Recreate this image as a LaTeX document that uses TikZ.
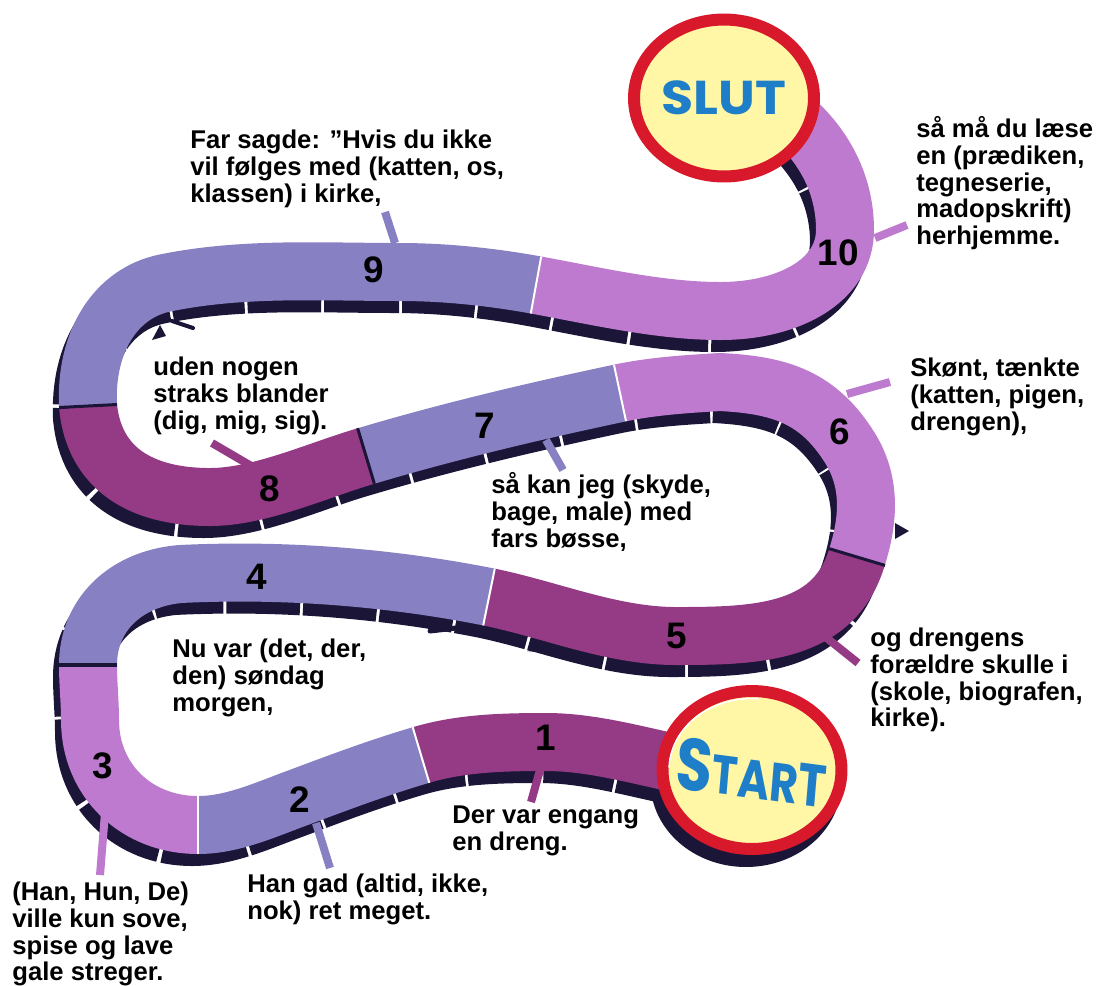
\documentclass[tikz,border=0pt]{standalone}
\usepackage{fontspec}
\setmainfont{Liberation Sans}
\newfontfamily\popfont{Poppins}
\definecolor{mag}{HTML}{953B86}
\definecolor{peri}{HTML}{8781C3}
\definecolor{lil}{HTML}{BD7ACF}
\definecolor{shd}{HTML}{1B1638}
\definecolor{ringred}{HTML}{D8182B}
\definecolor{yel}{HTML}{FFF6A6}
\definecolor{blu}{HTML}{1E7EC8}
\newcommand\segA{.. controls (649,759) and (598,742) .. (546,742) .. controls (504,742) and (461,743) .. (421,755)}
\newcommand\segB{.. controls (380,767) and (340,782) .. (300,797) .. controls (267,809) and (233,825) .. (198,825)}
\newcommand\segC{.. controls (137,825) and (90,781) .. (90,720) .. controls (90,702) and (88,683) .. (88,665)}
\newcommand\segD{.. controls (88,615) and (125,579) .. (180,574) .. controls (283,569) and (388,577) .. (489,597)}
\newcommand\segE{.. controls (552,610) and (612,636) .. (676,636) .. controls (756,636) and (834,634) .. (857,557)}
\newcommand\segF{.. controls (869,519) and (871,482) .. (850,448) .. controls (818,397) and (780,385) .. (720,382) .. controls (687,384) and (653,386) .. (620,393)}
\newcommand\segG{.. controls (535,411) and (450,431) .. (366,456)}
\newcommand\segH{.. controls (318,470) and (260,497) .. (210,497) .. controls (140,497) and (94,468) .. (88,406)}
\newcommand\segI{.. controls (85,341) and (116,293) .. (165,283) .. controls (243,267) and (322,272) .. (400,272) .. controls (445,272) and (492,277) .. (536,285)}
\newcommand\segJ{.. controls (596,296) and (660,311) .. (720,311) .. controls (790,311) and (845,280) .. (845,230) .. controls (845,180) and (820,140) .. (785,112)}
\newcommand\fs{\rule{0pt}{12pt}}
\begin{document}
\begin{tikzpicture}[x=0.02cm, y=-0.02cm, line cap=butt, line join=round,
  band/.style={draw=#1, line width=1.16cm},
  ptr/.style={draw=#1, line width=0.16cm},
  txt/.style={anchor=north west, align=left, inner sep=0pt, font=\bfseries\fontsize{14.6}{15.3}\selectfont},
  num/.style={font=\bfseries\fontsize{21}{21}\selectfont, inner sep=0pt},
  wline/.style={draw=white, line width=0.04cm},
  dline/.style={draw=shd, line width=0.06cm}]
\useasboundingbox (0,0) rectangle (1098,985);
% shadow of the track
\draw[draw=shd, line width=1.16cm, dash pattern=on 1.5cm off 0.06cm, shift={(-6,12)}]
  (700,768) \segA \segB \segC \segD \segE \segF \segG \segH \segI \segJ;
\coordinate (startc) at (752,770);
\coordinate (slutc) at (724,98);
\fill[shd] ([shift={(-6,12)}]startc) ellipse [x radius=1.91cm, y radius=1.7cm];
\fill[shd] (895,523) -- (909,531) -- (895,539) -- cycle;
\fill[shd] (527,651) -- (548,643) -- (548,653) -- cycle;
\draw[shd, line width=0.1cm, line cap=round] (430,631) -- (456,628);
\draw[shd, line width=0.08cm, line cap=round] (172,321) -- (193,328);
\fill[shd] (152,340) -- (160,325) -- (166,336) -- cycle;
% pointers
\draw[ptr=mag] (540,770) -- (531,802);
\draw[ptr=peri] (316,823) -- (330,868);
\draw[ptr=lil] (105,813) -- (100,875);
\draw[ptr=mag] (823,635) -- (858,663);
\draw[ptr=lil] (847,394) -- (890,382);
\draw[ptr=peri] (546,440) -- (563,470);
\draw[ptr=mag] (212,443) -- (253,467);
\draw[ptr=peri] (385,212) -- (395,243);
\draw[ptr=lil] (875,238) -- (907,225);
% track segments
\draw[band=mag] (700,768) \segA;
\draw[band=peri] (421,755) \segB;
\draw[band=lil] (198,825) \segC;
\draw[band=peri] (88,665) \segD;
\draw[band=mag] (489,597) \segE;
\draw[band=lil] (857,557) \segF;
\draw[band=peri] (620,393) \segG;
\draw[band=mag] (366,456) \segH;
\draw[band=peri] (88,406) \segI;
\draw[band=lil] (536,285) \segJ;
% boundaries
\draw[wline] (412.7,727.2) -- (429.3,782.8);
\draw[wline] (198,796) -- (198,854);
\draw[dline, line width=0.08cm] (59,665) -- (117,665);
\draw[wline] (494.8,568.6) -- (483.2,625.4);
\draw[dline] (829,548.6) -- (885,565.4);
\draw[wline] (614,365) -- (626,421);
\draw[dline] (357.6,428.2) -- (374.4,483.8);
\draw[dline] (59,407.5) -- (117,404.5);
\draw[wline] (541.2,256.6) -- (530.8,313.4);
% circles
\draw[draw=ringred, fill=yel, line width=0.24cm] (slutc) ellipse [x radius=1.8cm, y radius=1.57cm];
\draw[draw=ringred, fill=yel, line width=0.24cm] (startc) ellipse [x radius=1.79cm, y radius=1.58cm];
\draw[white, line width=0.03cm] ([shift={(178:1.66cm and 1.43cm)}]startc) arc[start angle=178, end angle=85, x radius=1.66cm, y radius=1.43cm];
\node[font=\popfont\bfseries\fontsize{27}{27}\selectfont, text=blu, xscale=1.1, transform shape, inner sep=0pt] (slut) at (slutc) {SLUT};
\node[text=blu, xscale=0.8, rotate=-6, transform shape, inner sep=0pt] (start) at (752,772)
  {\popfont\bfseries{\fontsize{42}{42}\selectfont S}{\fontsize{31}{31}\selectfont TAR}{\fontsize{34}{34}\selectfont T}};
% numbers
\node[num] (n1) at (546,738) {1};
\node[num] (n2) at (300,800) {2};
\node[num] (n3) at (103,766) {3};
\node[num] (n4) at (257,577) {4};
\node[num] (n5) at (677,636) {5};
\node[num] (n6) at (840,432) {6};
\node[num] (n7) at (485,426) {7};
\node[num] (n8) at (270,489) {8};
\node[num] (n9) at (374,270) {9};
\node[num] (n10) at (838,253) {10};
% texts
\node[txt] (t9) at (190,126.8) {\fs Far sagde: ”Hvis du ikke\\vil følges med (katten, os,\\klassen) i kirke,};
\node[txt] (t10) at (916,115.8) {\fs så må du læse\\en (prædiken,\\tegneserie,\\madopskrift)\\herhjemme.};
\node[txt] (t6) at (910,354.8) {\fs Skønt, tænkte\\(katten, pigen,\\drengen),};
\node[txt] (t8) at (153,353.8) {\fs uden nogen\\straks blander\\(dig, mig, sig).};
\node[txt] (t7) at (491,471.8) {\fs så kan jeg (skyde,\\bage, male) med\\fars bøsse,};
\node[txt] (t4) at (172,635.8) {\fs Nu var (det, der,\\den) søndag\\morgen,};
\node[txt] (t5) at (870,624.8) {\fs og drengens\\forældre skulle i\\(skole, biografen,\\kirke).};
\node[txt] (t1) at (452,801.8) {\fs Der var engang\\en dreng.};
\node[txt] (t2) at (247,870.8) {\fs Han gad (altid, ikke,\\nok) ret meget.};
\node[txt] (t3) at (12,878.8) {\fs (Han, Hun, De)\\ville kun sove,\\spise og lave\\gale streger.};
\end{tikzpicture}
\end{document}
